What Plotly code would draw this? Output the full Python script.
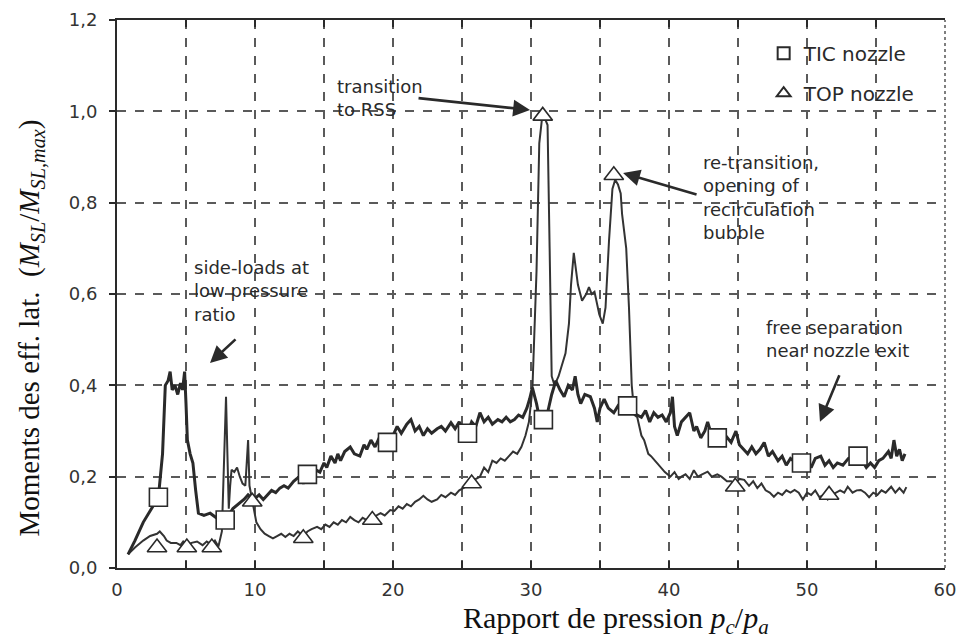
import plotly.graph_objects as go

# ---------------- data ----------------
tic_x = [0.8, 1.3, 1.9, 2.5, 3.0, 3.3, 3.5, 3.7, 3.85, 4.0, 4.2, 4.4, 4.6, 4.75, 4.9, 5.0, 5.1, 5.3, 5.5, 5.7,
         5.9, 6.3, 6.75, 7.2, 7.84, 8.4, 8.8, 9.2, 9.5, 9.9, 10.3, 10.6, 10.9, 11.2, 11.5, 11.8, 12.1, 12.4, 12.8, 13.2,
         13.5, 13.8, 14.1, 14.4, 14.7, 15.0, 15.2, 15.5, 15.8, 16.0, 16.2, 16.5, 16.9, 17.2, 17.6, 17.9, 18.1, 18.4, 18.7, 19.0,
         19.3, 19.6, 20.0, 20.3, 20.6, 21.0, 21.3, 21.6, 21.9, 22.2, 22.5, 22.8, 23.2, 23.5, 23.8, 24.2, 24.5, 24.8, 25.1, 25.4,
         25.7, 26.0, 26.3, 26.6, 26.9, 27.2, 27.6, 27.9, 28.2, 28.5, 28.8, 29.1, 29.4, 29.7, 29.9, 30.1, 30.4, 30.6, 30.9, 31.2,
         31.5, 31.8, 32.1, 32.4, 32.7, 33.0, 33.2, 33.4, 33.6, 33.9, 34.3, 34.6, 34.8, 35.0, 35.3, 35.6, 36.0, 36.3, 36.6, 37.0,
         37.4, 37.7, 38.0, 38.3, 38.6, 38.9, 39.2, 39.5, 39.8, 40.1, 40.25, 40.4, 40.6, 40.9, 41.2, 41.5, 41.8, 42.0, 42.3, 42.6,
         42.8, 43.1, 43.5, 43.8, 44.1, 44.5, 44.85, 45.1, 45.4, 45.7, 46.0, 46.3, 46.6, 46.9, 47.2, 47.5, 47.9, 48.2, 48.5, 48.8,
         49.2, 49.6, 50.0, 50.3, 50.6, 51.0, 51.3, 51.6, 51.9, 52.2, 52.6, 53.0, 53.4, 53.7, 54.0, 54.3, 54.6, 54.9, 55.2, 55.5,
         55.9, 56.1, 56.3, 56.5, 56.7, 56.9, 57.1]
tic_y = [0.03, 0.06, 0.10, 0.13, 0.155, 0.25, 0.40, 0.41, 0.43, 0.39, 0.40, 0.38, 0.405, 0.39, 0.43, 0.36, 0.28, 0.25, 0.23, 0.17,
         0.12, 0.115, 0.12, 0.11, 0.105, 0.13, 0.14, 0.15, 0.16, 0.15, 0.16, 0.15, 0.16, 0.17, 0.165, 0.175, 0.18, 0.175, 0.19, 0.20,
         0.185, 0.205, 0.20, 0.215, 0.21, 0.23, 0.22, 0.245, 0.23, 0.25, 0.235, 0.255, 0.265, 0.25, 0.245, 0.27, 0.26, 0.28, 0.265, 0.285,
         0.27, 0.275, 0.29, 0.31, 0.295, 0.315, 0.325, 0.30, 0.31, 0.29, 0.305, 0.295, 0.305, 0.31, 0.30, 0.318, 0.305, 0.32, 0.30, 0.295,
         0.32, 0.31, 0.34, 0.32, 0.33, 0.315, 0.325, 0.32, 0.33, 0.32, 0.325, 0.335, 0.33, 0.35, 0.37, 0.395, 0.36, 0.33, 0.325, 0.34,
         0.38, 0.41, 0.39, 0.375, 0.40, 0.39, 0.42, 0.38, 0.36, 0.38, 0.375, 0.35, 0.32, 0.35, 0.37, 0.35, 0.34, 0.355, 0.345, 0.355,
         0.34, 0.335, 0.33, 0.345, 0.32, 0.34, 0.33, 0.335, 0.32, 0.34, 0.375, 0.31, 0.29, 0.32, 0.33, 0.34, 0.30, 0.31, 0.285, 0.30,
         0.32, 0.29, 0.285, 0.28, 0.29, 0.275, 0.30, 0.27, 0.26, 0.25, 0.265, 0.25, 0.26, 0.275, 0.245, 0.255, 0.235, 0.245, 0.225, 0.24,
         0.23, 0.23, 0.235, 0.22, 0.24, 0.245, 0.225, 0.235, 0.22, 0.23, 0.225, 0.24, 0.245, 0.245, 0.235, 0.22, 0.23, 0.22, 0.235, 0.24,
         0.255, 0.24, 0.28, 0.245, 0.26, 0.235, 0.25]

top_x = [0.8, 1.3, 1.9, 2.4, 2.9, 3.1, 3.4, 3.6, 3.9, 4.3, 4.6, 4.8, 5.1, 5.4, 5.8, 6.2, 6.5, 6.9, 7.1, 7.35,
         7.6, 7.8, 7.9, 8.0, 8.1, 8.2, 8.3, 8.5, 8.7, 8.9, 9.1, 9.3, 9.45, 9.5, 9.6, 9.8, 10.1, 10.4, 10.7, 11.0,
         11.3, 11.6, 11.9, 12.2, 12.5, 12.8, 13.1, 13.5, 13.8, 14.1, 14.5, 14.8, 15.1, 15.4, 15.7, 16.0, 16.3, 16.6, 16.9, 17.2,
         17.5, 17.8, 18.1, 18.5, 18.8, 19.1, 19.4, 19.8, 20.1, 20.4, 20.7, 21.0, 21.3, 21.6, 21.9, 22.2, 22.5, 22.8, 23.2, 23.5,
         23.8, 24.2, 24.5, 24.8, 25.1, 25.4, 25.7, 26.0, 26.3, 26.6, 26.9, 27.2, 27.5, 27.8, 28.1, 28.4, 28.7, 29.0, 29.3, 29.6,
         29.85, 30.1, 30.4, 30.6, 30.8, 31.0, 31.2, 31.35, 31.5, 31.7, 32.0, 32.2, 32.5, 32.75, 32.9, 33.1, 33.25, 33.4, 33.7, 34.0,
         34.2, 34.4, 34.6, 34.8, 34.95, 35.2, 35.4, 35.65, 35.9, 36.1, 36.3, 36.5, 36.6, 36.9, 37.1, 37.3, 37.5, 37.7, 38.0, 38.2,
         38.5, 38.7, 39.0, 39.4, 39.7, 40.1, 40.4, 40.7, 40.9, 41.2, 41.5, 41.8, 42.1, 42.4, 42.8, 43.1, 43.5, 43.8, 44.2, 44.5,
         44.8, 45.1, 45.45, 45.8, 46.1, 46.4, 46.7, 47.0, 47.3, 47.6, 47.9, 48.2, 48.5, 48.8, 49.1, 49.4, 49.7, 50.0, 50.3, 50.6,
         50.9, 51.2, 51.5, 51.8, 52.1, 52.4, 52.7, 52.95, 53.3, 53.6, 53.9, 54.2, 54.5, 54.8, 55.1, 55.4, 55.7, 56.1, 56.4, 56.7,
         57.0, 57.2]
top_y = [0.03, 0.045, 0.06, 0.07, 0.075, 0.08, 0.07, 0.06, 0.055, 0.055, 0.05, 0.058, 0.05, 0.055, 0.058, 0.05, 0.058, 0.05, 0.06, 0.047,
         0.08, 0.30, 0.375, 0.25, 0.13, 0.18, 0.215, 0.21, 0.22, 0.20, 0.185, 0.18, 0.25, 0.28, 0.18, 0.145, 0.10, 0.085, 0.075, 0.07,
         0.065, 0.07, 0.075, 0.068, 0.075, 0.07, 0.08, 0.07, 0.08, 0.085, 0.09, 0.085, 0.095, 0.09, 0.10, 0.095, 0.105, 0.10, 0.112, 0.105,
         0.10, 0.11, 0.105, 0.105, 0.115, 0.12, 0.115, 0.127, 0.125, 0.135, 0.13, 0.14, 0.135, 0.145, 0.15, 0.158, 0.15, 0.145, 0.15, 0.16,
         0.155, 0.165, 0.16, 0.17, 0.175, 0.18, 0.19, 0.195, 0.20, 0.22, 0.21, 0.235, 0.23, 0.24, 0.235, 0.245, 0.255, 0.25, 0.265, 0.29,
         0.32, 0.39, 0.65, 0.93, 0.985, 0.985, 0.97, 0.70, 0.42, 0.40, 0.42, 0.44, 0.47, 0.535, 0.62, 0.69, 0.65, 0.62, 0.585, 0.60,
         0.615, 0.60, 0.605, 0.575, 0.555, 0.535, 0.57, 0.715, 0.83, 0.85, 0.84, 0.82, 0.775, 0.70, 0.57, 0.40, 0.335, 0.33, 0.29, 0.28,
         0.25, 0.245, 0.235, 0.22, 0.21, 0.20, 0.21, 0.195, 0.20, 0.205, 0.195, 0.214, 0.20, 0.205, 0.211, 0.20, 0.205, 0.20, 0.19, 0.19,
         0.185, 0.195, 0.193, 0.18, 0.19, 0.175, 0.185, 0.17, 0.165, 0.156, 0.165, 0.16, 0.17, 0.165, 0.171, 0.165, 0.15, 0.165, 0.16, 0.17,
         0.155, 0.16, 0.15, 0.16, 0.165, 0.17, 0.165, 0.178, 0.165, 0.17, 0.171, 0.165, 0.155, 0.165, 0.16, 0.17, 0.165, 0.178, 0.165, 0.175,
         0.165, 0.177]

tic_mark_x = [3.0, 7.84, 13.8, 19.6, 25.4, 30.9, 37.0, 43.5, 49.6, 53.7]
tic_mark_y = [0.155, 0.105, 0.205, 0.275, 0.295, 0.325, 0.355, 0.285, 0.23, 0.245]
top_mark_x = [2.9, 5.06, 6.87, 9.8, 13.5, 18.5, 25.7, 30.85, 36.0, 44.8, 51.6]
top_mark_y = [0.045, 0.045, 0.045, 0.145, 0.065, 0.105, 0.185, 0.99, 0.86, 0.178, 0.16]

x_ticks = [0, 10, 20, 30, 40, 50, 60]
x_tick_labels = ["0", "10", "20", "30", "40", "50", "60"]
x_grid = [5, 10, 15, 20, 25, 30, 35, 40, 45, 50, 55]
y_ticks = [0.0, 0.2, 0.4, 0.6, 0.8, 1.0, 1.2]
y_tick_labels = ["0,0", "0,2", "0,4", "0,6", "0,8", "1,0", "1,2"]
y_grid = [0.2, 0.4, 0.6, 0.8, 1.0]

# ---------------- styling ----------------
INK = "#2a2a2a"
SANS = "DejaVu Sans"
SERIF = "Liberation Serif"
GRID = "#5a5a5a"

fig = go.Figure()
fig.add_trace(go.Scatter(x=top_x, y=top_y, mode="lines", line=dict(color="#333333", width=2),
                         showlegend=False, hoverinfo="skip"))
fig.add_trace(go.Scatter(x=tic_x, y=tic_y, mode="lines", line=dict(color=INK, width=3),
                         showlegend=False, hoverinfo="skip"))
fig.add_trace(go.Scatter(x=tic_mark_x, y=tic_mark_y, mode="markers", name="TIC nozzle", legendgroup="a",
                         marker=dict(symbol="square", size=18, color="white", line=dict(color=INK, width=1.6))))
fig.add_trace(go.Scatter(x=top_mark_x, y=top_mark_y, mode="markers", name="TOP nozzle", legendgroup="b",
                         marker=dict(symbol="triangle-up", size=17, color="white", line=dict(color=INK, width=1.6))))

fig.update_xaxes(range=[0, 60], tickmode="array", tickvals=x_ticks, ticktext=x_tick_labels,
                 automargin=False,
                 showgrid=False, zeroline=False, showline=True, linecolor=INK, linewidth=2,
                 mirror="ticks", ticks="inside", ticklen=7, tickcolor=INK, tickwidth=1.5,
                 ticklabelstandoff=4,
                 minor=dict(tickmode="array", tickvals=x_grid, showgrid=True, gridcolor=GRID,
                            griddash="9px,9px", gridwidth=1.5, ticks="inside", ticklen=7,
                            tickcolor=INK),
                 tickfont=dict(family=SANS, size=18, color="#333"))
fig.update_yaxes(range=[0, 1.2], tickmode="array", tickvals=y_ticks, ticktext=y_tick_labels,
                 automargin=False,
                 showgrid=False, zeroline=False, showline=True, linecolor=INK, linewidth=2,
                 ticks="outside", ticklen=6, tickcolor=INK, tickwidth=1.5, ticklabelstandoff=8,
                 minor=dict(tickmode="array", tickvals=y_grid, showgrid=True, gridcolor=GRID,
                            griddash="9px,9px", gridwidth=1.5),
                 tickfont=dict(family=SANS, size=18, color="#333"))

# dotted right border
fig.add_shape(type="line", xref="paper", yref="paper", x0=1, x1=1, y0=0, y1=1,
              line=dict(color="#555", width=1.5, dash="dot"))

txt = dict(family=SANS, size=18, color=INK)
notes = [
    ("transition<br>to RSS", 15.8, 1.029),
    ("side-loads at<br>low pressure<br>ratio", 5.45, 0.607),
    ("re-transition,<br>opening of<br>recirculation<br>bubble", 42.3, 0.812),
    ("free separation<br>near nozzle exit", 46.9, 0.501),
]
for t, x, y in notes:
    fig.add_annotation(text=t, x=x, y=y, xref="x", yref="y", xanchor="left", yanchor="middle",
                       align="left", showarrow=False, font=txt)

arrows = [(29.93, 1.003, -113, -12), (6.74, 0.449, 27, -25), (36.67, 0.865, 75, 22), (50.94, 0.32, 20, -48)]
for x, y, ax, ay in arrows:
    fig.add_annotation(text="", x=x, y=y, xref="x", yref="y", ax=ax, ay=ay, showarrow=True,
                       arrowhead=2, arrowsize=1.3, arrowwidth=2.6, arrowcolor=INK)

# axis titles
fig.add_annotation(text="Moments des eff. lat.\u00a0\u00a0(<i>M<sub>SL</sub></i>/<i>M<sub>SL,max</sub></i>)",
                   xref="paper", yref="paper", x=-0.105, y=0.437, textangle=-90, showarrow=False,
                   xanchor="center", yanchor="middle", font=dict(family=SERIF, size=29, color="#111"))
fig.add_annotation(text="Rapport de pression <i>p<sub>c</sub></i>/<i>p<sub>a</sub></i>",
                   xref="paper", yref="paper", x=0.603, y=-0.095, showarrow=False,
                   xanchor="center", yanchor="middle", font=dict(family=SERIF, size=30, color="#111"))

fig.update_layout(template="none", width=958, height=642,
                  margin=dict(l=117, r=13, t=20, b=74, autoexpand=False),
                  paper_bgcolor="white", plot_bgcolor="white",
                  showlegend=True,
                  legend=dict(x=0.781, y=0.975, xanchor="left", yanchor="top", bgcolor="rgba(0,0,0,0)",
                              font=dict(family=SANS, size=20, color=INK), itemsizing="constant",
                              tracegroupgap=11, traceorder="grouped"))

fig.write_html("out.html", config={"displayModeBar": False},
               post_script="document.body.style.margin='0';document.body.style.overflow='hidden';")
